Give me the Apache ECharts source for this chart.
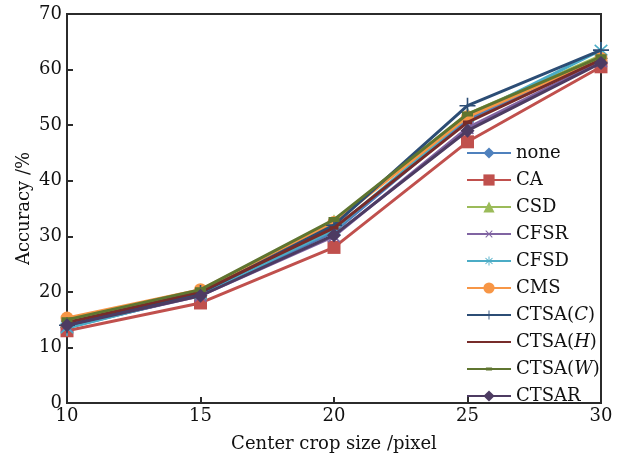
<!DOCTYPE html>
<html>
<head>
<meta charset="utf-8">
<script src="https://cdn.jsdelivr.net/npm/echarts@6/dist/echarts.min.js"></script>
<style>
	html, body { margin: 0; padding: 0; background: #fff; }
	#chart { width: 627px; height: 458px; }
</style>
</head>
<body>
<div id="chart"></div>
<script>
	// 데이터
	const cropSizes = [10, 15, 20, 25, 30];
	const seriesNames = ["none", "CA", "CSD", "CFSR", "CFSD", "CMS", "CTSA(C)", "CTSA(H)", "CTSA(W)", "CTSAR"];
	const noneVals = [13.6, 19.5, 30.8, 51.0, 62.0];
	const caVals = [13.0, 18.0, 28.0, 47.0, 60.5];
	const csdVals = [14.8, 20.2, 32.8, 52.0, 62.5];
	const cfsrVals = [13.8, 19.3, 30.0, 49.5, 61.5];
	const cfsdVals = [13.5, 19.6, 31.2, 51.5, 63.5];
	const cmsVals = [15.3, 20.4, 32.5, 51.5, 62.0];
	const ctsaCVals = [14.0, 19.8, 32.0, 53.5, 63.5];
	const ctsaHVals = [14.5, 20.0, 31.5, 50.5, 61.8];
	const ctsaWVals = [15.0, 20.4, 33.0, 52.0, 62.3];
	const ctsarVals = [14.0, 19.3, 30.2, 49.0, 61.2];
	const yTicks = [0, 10, 20, 30, 40, 50, 60, 70];

	const allVals = [noneVals, caVals, csdVals, cfsrVals, cfsdVals, cmsVals, ctsaCVals, ctsaHVals, ctsaWVals, ctsarVals];
	const colors = ["#4F81BD", "#C0504D", "#9BBB59", "#8064A2", "#4BACC6", "#F79646", "#2C4D75", "#772C2A", "#5F7530", "#4D3B62"];

	// 마커 모양 (M-10,-10 / M10,10 점은 크기 기준용)
	const box = "M-10,-10L-10,-10ZM10,10L10,10Z";
	const plusPath = "path://" + box + "M-0.8,-8L0.8,-8L0.8,-0.8L8,-0.8L8,0.8L0.8,0.8L0.8,8L-0.8,8L-0.8,0.8L-8,0.8L-8,-0.8L-0.8,-0.8Z";
	const crossPath = "path://" + box + "M-6.5,-5.3L-5.3,-6.5L0,-1.2L5.3,-6.5L6.5,-5.3L1.2,0L6.5,5.3L5.3,6.5L0,1.2L-5.3,6.5L-6.5,5.3L-1.2,0Z";
	const starPath = "path://" + box + "M-0.8,-8L0.8,-8L0.8,-1.4L5.8,-5.8L6.8,-4.7L1.8,0L6.8,4.7L5.8,5.8L0.8,1.4L0.8,8L-0.8,8L-0.8,1.4L-5.8,5.8L-6.8,4.7L-1.8,0L-6.8,-4.7L-5.8,-5.8L-0.8,-1.4Z";
	const dashPath = "path://" + box + "M-4.5,-1.8L4.5,-1.8L4.5,1.8L-4.5,1.8Z";
	const barPath = "path://" + box + "M-5.5,-2.5L5.5,-2.5L5.5,2.5L-5.5,2.5Z";
	const symbols = ["diamond", "rect", "triangle", crossPath, starPath, "circle", plusPath, dashPath, barPath, "diamond"];
	const symbolSizes = [14, 13, 13, 20, 20, 13, 20, 20, 20, 14];

	const serif = "DejaVu Serif";

	function legendLabel(name) {
		let m = name.match(/^CTSA\((\w)\)$/);
		if (m) {
			return "{n|CTSA(}{i|" + m[1] + "}{n|)}";
		}
		return "{n|" + name + "}";
	}

	function accuracyChart() {
		let dom = document.getElementById("chart");
		let myChart = echarts.init(dom, null, { renderer: "canvas" });

		let series = seriesNames.map(function (name, i) {
			return {
				name: name,
				type: "line",
				data: cropSizes.map(function (x, j) { return [x, allVals[i][j]]; }),
				symbol: symbols[i],
				symbolSize: symbolSizes[i],
				showAllSymbol: true,
				itemStyle: { color: colors[i], opacity: 1 },
				lineStyle: { color: colors[i], width: 3 },
				emphasis: { disabled: true },
				z: 2 + i,
			};
		});

		let option = {
			backgroundColor: "#fff",
			animation: false,
			grid: {
				left: 67,
				right: 26,
				top: 14,
				bottom: 50,
				show: true,
				borderColor: "#2b2b2b",
				borderWidth: 2,
				containLabel: false,
			},
			legend: {
				orient: "vertical",
				left: 461,
				top: 139,
				itemWidth: 44,
				itemHeight: 14,
				itemGap: 9,
				data: seriesNames,
				formatter: legendLabel,
				textStyle: {
					rich: {
						n: { fontFamily: serif, fontSize: 18, color: "#111" },
						i: { fontFamily: serif, fontSize: 18, color: "#111", fontStyle: "italic" },
					},
				},
			},
			xAxis: {
				type: "value",
				min: 10,
				max: 30,
				interval: 5,
				name: "Center crop size /pixel",
				nameLocation: "middle",
				nameGap: 32,
				nameMoveOverlap: false,
				nameTextStyle: { fontFamily: serif, fontSize: 18, color: "#111" },
				axisLine: { show: true, lineStyle: { color: "#2b2b2b", width: 2 } },
				axisTick: { show: true, inside: true, length: 6, lineStyle: { color: "#2b2b2b", width: 2 } },
				axisLabel: { fontFamily: serif, fontSize: 18, color: "#111", margin: 4 },
				splitLine: { show: false },
			},
			yAxis: {
				type: "value",
				min: yTicks[0],
				max: yTicks[yTicks.length - 1],
				interval: 10,
				name: "Accuracy /%",
				nameLocation: "middle",
				nameGap: 34,
				nameMoveOverlap: false,
				nameTextStyle: { fontFamily: serif, fontSize: 18, color: "#111" },
				axisLine: { show: true, lineStyle: { color: "#2b2b2b", width: 2 } },
				axisTick: { show: true, inside: true, length: 6, lineStyle: { color: "#2b2b2b", width: 2 } },
				axisLabel: { fontFamily: serif, fontSize: 18, color: "#111", margin: 5 },
				splitLine: { show: false },
			},
			series: series,
		};

		myChart.setOption(option);
		window.addEventListener("resize", myChart.resize);
	}

	(function init() {
		accuracyChart();
	})();
</script>
</body>
</html>
